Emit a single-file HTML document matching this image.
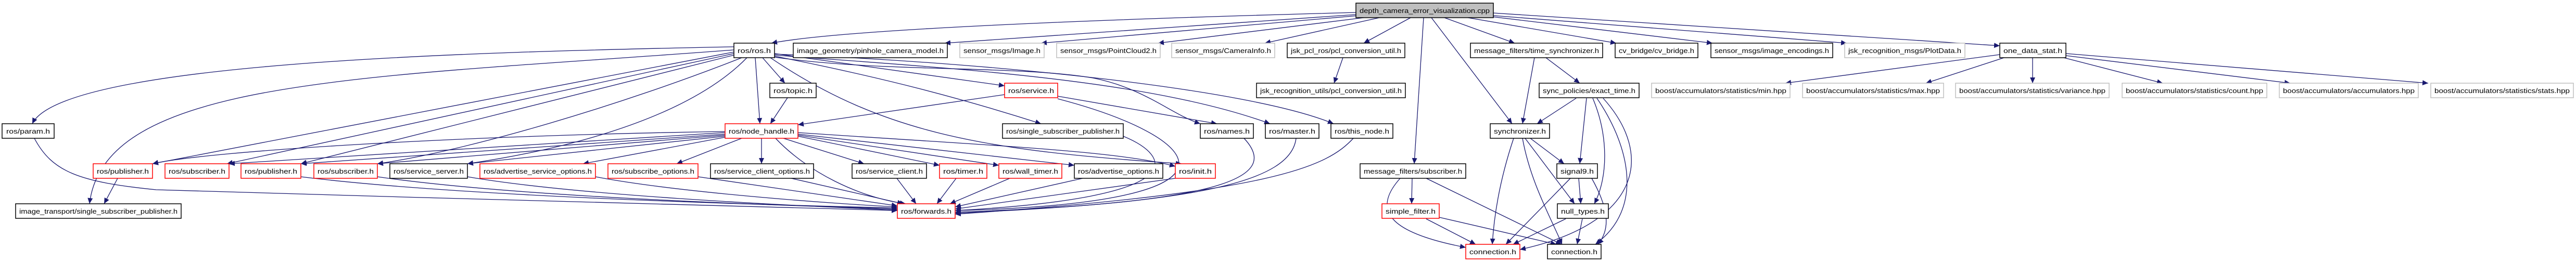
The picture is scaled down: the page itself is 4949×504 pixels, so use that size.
<!DOCTYPE html>
<html><head><meta charset="utf-8"><style>
html,body{margin:0;padding:0;background:#fff;}
svg{display:block;}
text{font-family:"Liberation Sans",sans-serif;font-size:13px;fill:#000;}
.e{fill:none;stroke:#191970;stroke-width:1.3;marker-end:url(#a);}
.k{fill:#fff;stroke:#000;stroke-width:1.5;}
.r{fill:#fff;stroke:#ff0000;stroke-width:1.5;}
.g{fill:#fff;stroke:#bfbfbf;stroke-width:1.5;}
.rt{fill:#bfbfbf;stroke:#000;stroke-width:1.5;}
</style></head><body>
<svg width="4949" height="504" viewBox="0 0 4949 504" xmlns="http://www.w3.org/2000/svg">
<defs><marker id="a" markerUnits="userSpaceOnUse" markerWidth="12" markerHeight="10" refX="11" refY="5" orient="auto"><path d="M0,0 L11,5 L0,10 z" fill="#191970"/></marker></defs>
<g>
<path class="e" d="M2605,24 C2000,40 1600,60 1482,83"/>
<path class="e" d="M2605,28 L1815,83"/>
<path class="e" d="M2610,30 L2000,83"/>
<path class="e" d="M2620,34 L2225,83"/>
<path class="e" d="M2650,34 L2430,83"/>
<path class="e" d="M2710,34 L2620,83"/>
<path class="e" d="M2735,34 L2717,315"/>
<path class="e" d="M2750,34 L2905,238"/>
<path class="e" d="M2775,34 L2910,83"/>
<path class="e" d="M2820,34 L3105,83"/>
<path class="e" d="M2865,32 L3290,83"/>
<path class="e" d="M2869,30 L3548,83"/>
<path class="e" d="M2869,25 L3842,88"/>

<path class="e" d="M1410,90 C900,100 120,120 62,238"/>
<path class="e" d="M1410,96 C700,150 200,150 172,392"/>
<path class="e" d="M1410,100 L293,315"/>
<path class="e" d="M1410,103 L436,315"/>
<path class="e" d="M1410,106 L578,315"/>
<path class="e" d="M1425,111 C1200,200 900,290 725,315"/>
<path class="e" d="M1435,111 C1300,250 1000,300 898,315"/>
<path class="e" d="M1451,111 L1460,238"/>
<path class="e" d="M1465,111 L1508,160"/>
<path class="e" d="M1488,103 L1930,165"/>
<path class="e" d="M1488,108 C1700,150 1850,190 2000,238"/>
<path class="e" d="M1488,110 C1700,140 1950,125 2100,150 C2200,170 2250,220 2306,238"/>
<path class="e" d="M1488,106 C1800,130 2200,150 2440,238"/>
<path class="e" d="M1488,104 C1900,120 2400,170 2562,238"/>
<path class="e" d="M1480,111 C1700,260 1900,290 2270,315"/>
<path class="e" d="M1513,188 L1480,238"/>
<path class="e" d="M1930,182 L1533,240"/>
<path class="e" d="M2032,185 L2338,238"/>
<path class="e" d="M2032,190 C2300,260 2450,390 1835,405"/>

<path class="e" d="M1393,253 C900,260 400,290 293,315"/>
<path class="e" d="M1393,255 L440,315"/>
<path class="e" d="M1393,258 L578,315"/>
<path class="e" d="M1393,260 L725,315"/>
<path class="e" d="M1393,262 L898,315"/>
<path class="e" d="M1393,264 L1120,315"/>
<path class="e" d="M1425,266 L1300,315"/>
<path class="e" d="M1463,266 L1463,315"/>
<path class="e" d="M1505,266 L1660,315"/>
<path class="e" d="M1533,262 L1805,318"/>
<path class="e" d="M1533,260 L1919,318"/>
<path class="e" d="M1533,258 L2064,318"/>
<path class="e" d="M1533,255 C1900,280 2150,290 2258,320"/>
<path class="e" d="M1490,266 C1550,330 1650,380 1740,392"/>

<path class="e" d="M226,343 L200,392"/>
<path class="e" d="M66,266 C100,330 150,350 300,365 C800,380 1500,400 1724,405"/>
<path class="e" d="M578,340 C900,380 1500,395 1724,400"/>
<path class="e" d="M725,340 C1000,380 1500,395 1724,402"/>
<path class="e" d="M898,340 C1100,375 1500,395 1724,404"/>
<path class="e" d="M1144,340 C1300,370 1600,392 1724,398"/>
<path class="e" d="M1341,340 L1724,396"/>
<path class="e" d="M1520,343 L1735,392"/>
<path class="e" d="M1723,343 L1760,392"/>
<path class="e" d="M1837,343 L1800,392"/>
<path class="e" d="M1940,343 L1825,392"/>
<path class="e" d="M2080,343 L1835,398"/>
<path class="e" d="M2258,343 L1835,402"/>
<path class="e" d="M2158,262 C2250,300 2300,380 1835,405"/>
<path class="e" d="M2390,266 C2450,330 2400,390 1835,408"/>
<path class="e" d="M2490,266 C2480,350 2300,390 1835,410"/>
<path class="e" d="M2600,266 C2550,320 2450,370 1835,412"/>

<path class="e" d="M2580,111 L2563,160"/>
<path class="e" d="M2948,111 L2925,238"/>
<path class="e" d="M2970,111 L3035,160"/>
<path class="e" d="M3028,189 L2953,238"/>
<path class="e" d="M3048,189 L3035,315"/>
<path class="e" d="M3060,189 C3090,260 3090,340 3063,392"/>
<path class="e" d="M3068,189 C3130,280 3160,400 3065,470"/>
<path class="e" d="M3080,189 C3180,300 3150,430 2920,480"/>
<path class="e" d="M2908,266 C2880,350 2870,420 2867,470"/>
<path class="e" d="M2925,266 C2940,350 2980,420 3001,470"/>
<path class="e" d="M2940,266 L3005,315"/>
<path class="e" d="M2930,266 L3025,392"/>
<path class="e" d="M3033,343 L3037,392"/>
<path class="e" d="M3017,343 L2893,470"/>
<path class="e" d="M3058,343 C3090,400 3095,440 3070,470"/>
<path class="e" d="M3008,421 L2907,470"/>
<path class="e" d="M3040,421 L3030,470"/>
<path class="e" d="M2713,343 L2712,392"/>
<path class="e" d="M2690,343 C2630,410 2680,450 2816,476"/>
<path class="e" d="M2740,343 L3000,470"/>
<path class="e" d="M2740,421 L2835,470"/>
<path class="e" d="M2765,418 L2990,470"/>

<path class="e" d="M3842,105 L3430,160"/>
<path class="e" d="M3850,111 L3700,160"/>
<path class="e" d="M3905,111 L3905,160"/>
<path class="e" d="M3965,111 L4155,160"/>
<path class="e" d="M3969,107 L4400,160"/>
<path class="e" d="M3969,103 L4665,160"/>
</g>
<g>
<rect class="rt" x="2605" y="6" width="264" height="28"/><text x="2612" y="25" textLength="250" lengthAdjust="spacingAndGlyphs">depth_camera_error_visualization.cpp</text>

<rect class="k" x="1410" y="83" width="78" height="28"/><text x="1417" y="102" textLength="64" lengthAdjust="spacingAndGlyphs">ros/ros.h</text>
<rect class="k" x="1524" y="83" width="296" height="28"/><text x="1531" y="102" textLength="282" lengthAdjust="spacingAndGlyphs">image_geometry/pinhole_camera_model.h</text>
<rect class="g" x="1844" y="83" width="162" height="28"/><text x="1851" y="102" textLength="148" lengthAdjust="spacingAndGlyphs">sensor_msgs/Image.h</text>
<rect class="g" x="2030" y="83" width="199" height="28"/><text x="2037" y="102" textLength="185" lengthAdjust="spacingAndGlyphs">sensor_msgs/PointCloud2.h</text>
<rect class="g" x="2251" y="83" width="198" height="28"/><text x="2258" y="102" textLength="184" lengthAdjust="spacingAndGlyphs">sensor_msgs/CameraInfo.h</text>
<rect class="k" x="2473" y="83" width="226" height="28"/><text x="2480" y="102" textLength="212" lengthAdjust="spacingAndGlyphs">jsk_pcl_ros/pcl_conversion_util.h</text>
<rect class="k" x="2825" y="83" width="254" height="28"/><text x="2832" y="102" textLength="240" lengthAdjust="spacingAndGlyphs">message_filters/time_synchronizer.h</text>
<rect class="k" x="3103" y="83" width="159" height="28"/><text x="3110" y="102" textLength="145" lengthAdjust="spacingAndGlyphs">cv_bridge/cv_bridge.h</text>
<rect class="k" x="3287" y="83" width="234" height="28"/><text x="3294" y="102" textLength="220" lengthAdjust="spacingAndGlyphs">sensor_msgs/image_encodings.h</text>
<rect class="g" x="3544" y="83" width="231" height="28"/><text x="3551" y="102" textLength="217" lengthAdjust="spacingAndGlyphs">jsk_recognition_msgs/PlotData.h</text>
<rect class="k" x="3842" y="83" width="127" height="28"/><text x="3849" y="102" textLength="113" lengthAdjust="spacingAndGlyphs">one_data_stat.h</text>

<rect class="k" x="1479" y="160" width="89" height="28"/><text x="1486" y="179" textLength="75" lengthAdjust="spacingAndGlyphs">ros/topic.h</text>
<rect class="r" x="1930" y="160" width="102" height="28"/><text x="1937" y="179" textLength="88" lengthAdjust="spacingAndGlyphs">ros/service.h</text>
<rect class="k" x="2414" y="160" width="286" height="28"/><text x="2421" y="179" textLength="272" lengthAdjust="spacingAndGlyphs">jsk_recognition_utils/pcl_conversion_util.h</text>
<rect class="k" x="2957" y="160" width="192" height="28"/><text x="2964" y="179" textLength="178" lengthAdjust="spacingAndGlyphs">sync_policies/exact_time.h</text>
<rect class="g" x="3173" y="160" width="266" height="28"/><text x="3180" y="179" textLength="252" lengthAdjust="spacingAndGlyphs">boost/accumulators/statistics/min.hpp</text>
<rect class="g" x="3463" y="160" width="271" height="28"/><text x="3470" y="179" textLength="257" lengthAdjust="spacingAndGlyphs">boost/accumulators/statistics/max.hpp</text>
<rect class="g" x="3757" y="160" width="295" height="28"/><text x="3764" y="179" textLength="281" lengthAdjust="spacingAndGlyphs">boost/accumulators/statistics/variance.hpp</text>
<rect class="g" x="4077" y="160" width="278" height="28"/><text x="4084" y="179" textLength="264" lengthAdjust="spacingAndGlyphs">boost/accumulators/statistics/count.hpp</text>
<rect class="g" x="4379" y="160" width="267" height="28"/><text x="4386" y="179" textLength="253" lengthAdjust="spacingAndGlyphs">boost/accumulators/accumulators.hpp</text>
<rect class="g" x="4670" y="160" width="274" height="28"/><text x="4677" y="179" textLength="260" lengthAdjust="spacingAndGlyphs">boost/accumulators/statistics/stats.hpp</text>

<rect class="k" x="4" y="238" width="100" height="28"/><text x="12" y="257" textLength="84" lengthAdjust="spacingAndGlyphs">ros/param.h</text>
<rect class="r" x="1393" y="238" width="140" height="28"/><text x="1400" y="257" textLength="126" lengthAdjust="spacingAndGlyphs">ros/node_handle.h</text>
<rect class="k" x="1926" y="238" width="232" height="28"/><text x="1933" y="257" textLength="218" lengthAdjust="spacingAndGlyphs">ros/single_subscriber_publisher.h</text>
<rect class="k" x="2306" y="238" width="102" height="28"/><text x="2313" y="257" textLength="88" lengthAdjust="spacingAndGlyphs">ros/names.h</text>
<rect class="k" x="2431" y="238" width="103" height="28"/><text x="2438" y="257" textLength="89" lengthAdjust="spacingAndGlyphs">ros/master.h</text>
<rect class="k" x="2557" y="238" width="119" height="28"/><text x="2564" y="257" textLength="105" lengthAdjust="spacingAndGlyphs">ros/this_node.h</text>
<rect class="k" x="2863" y="238" width="114" height="28"/><text x="2870" y="257" textLength="100" lengthAdjust="spacingAndGlyphs">synchronizer.h</text>

<rect class="r" x="179" y="315" width="114" height="28"/><text x="186" y="334" textLength="100" lengthAdjust="spacingAndGlyphs">ros/publisher.h</text>
<rect class="r" x="317" y="315" width="123" height="28"/><text x="324" y="334" textLength="109" lengthAdjust="spacingAndGlyphs">ros/subscriber.h</text>
<rect class="r" x="463" y="315" width="115" height="28"/><text x="470" y="334" textLength="101" lengthAdjust="spacingAndGlyphs">ros/publisher.h</text>
<rect class="r" x="603" y="315" width="122" height="28"/><text x="610" y="334" textLength="108" lengthAdjust="spacingAndGlyphs">ros/subscriber.h</text>
<rect class="k" x="749" y="315" width="149" height="28"/><text x="756" y="334" textLength="135" lengthAdjust="spacingAndGlyphs">ros/service_server.h</text>
<rect class="r" x="922" y="315" width="222" height="28"/><text x="929" y="334" textLength="208" lengthAdjust="spacingAndGlyphs">ros/advertise_service_options.h</text>
<rect class="r" x="1168" y="315" width="173" height="28"/><text x="1175" y="334" textLength="159" lengthAdjust="spacingAndGlyphs">ros/subscribe_options.h</text>
<rect class="k" x="1365" y="315" width="198" height="28"/><text x="1372" y="334" textLength="184" lengthAdjust="spacingAndGlyphs">ros/service_client_options.h</text>
<rect class="k" x="1637" y="315" width="143" height="28"/><text x="1644" y="334" textLength="129" lengthAdjust="spacingAndGlyphs">ros/service_client.h</text>
<rect class="r" x="1805" y="315" width="91" height="28"/><text x="1812" y="334" textLength="77" lengthAdjust="spacingAndGlyphs">ros/timer.h</text>
<rect class="r" x="1919" y="315" width="121" height="28"/><text x="1926" y="334" textLength="107" lengthAdjust="spacingAndGlyphs">ros/wall_timer.h</text>
<rect class="k" x="2064" y="315" width="170" height="28"/><text x="2071" y="334" textLength="156" lengthAdjust="spacingAndGlyphs">ros/advertise_options.h</text>
<rect class="r" x="2258" y="315" width="77" height="28"/><text x="2265" y="334" textLength="63" lengthAdjust="spacingAndGlyphs">ros/init.h</text>
<rect class="k" x="2613" y="315" width="203" height="28"/><text x="2620" y="334" textLength="189" lengthAdjust="spacingAndGlyphs">message_filters/subscriber.h</text>
<rect class="k" x="2991" y="315" width="78" height="28"/><text x="2998" y="334" textLength="64" lengthAdjust="spacingAndGlyphs">signal9.h</text>

<rect class="k" x="30" y="392" width="318" height="28"/><text x="37" y="411" textLength="304" lengthAdjust="spacingAndGlyphs">image_transport/single_subscriber_publisher.h</text>
<rect class="r" x="1724" y="392" width="111" height="28"/><text x="1731" y="411" textLength="97" lengthAdjust="spacingAndGlyphs">ros/forwards.h</text>
<rect class="r" x="2655" y="392" width="110" height="28"/><text x="2662" y="411" textLength="96" lengthAdjust="spacingAndGlyphs">simple_filter.h</text>
<rect class="k" x="2992" y="392" width="98" height="28"/><text x="2999" y="411" textLength="84" lengthAdjust="spacingAndGlyphs">null_types.h</text>

<rect class="r" x="2816" y="470" width="104" height="28"/><text x="2823" y="489" textLength="90" lengthAdjust="spacingAndGlyphs">connection.h</text>
<rect class="k" x="2973" y="470" width="103" height="28"/><text x="2980" y="489" textLength="89" lengthAdjust="spacingAndGlyphs">connection.h</text>
</g>
</svg>
</body></html>
